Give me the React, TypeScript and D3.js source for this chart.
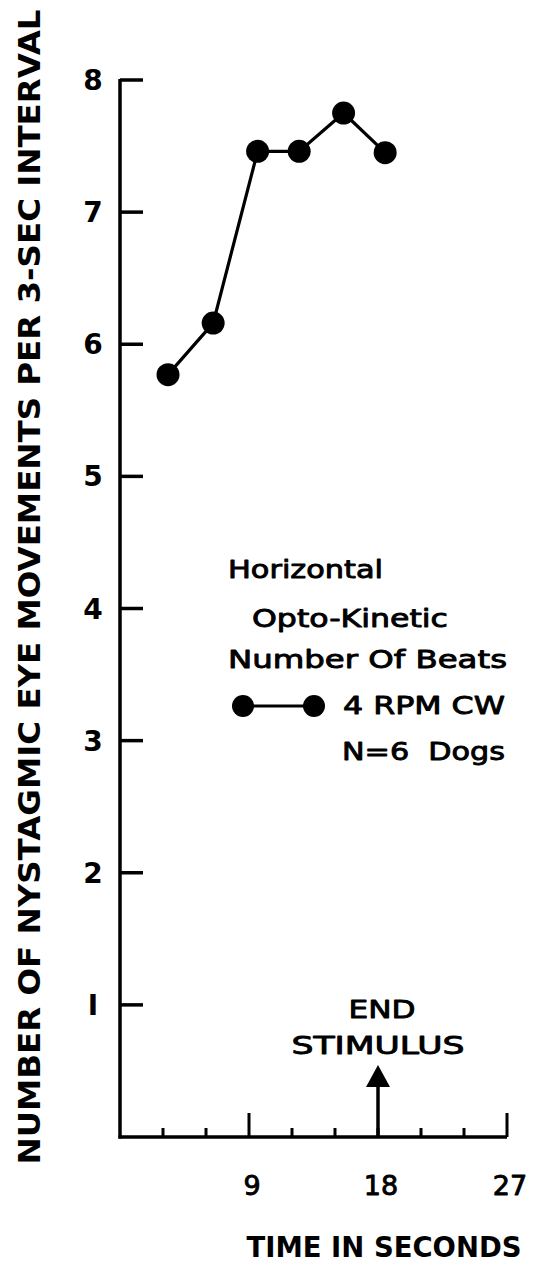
import React from "react";
import * as d3 from "d3";

const timeSec = [3.35, 6.5, 9.6, 12.5, 15.6, 18.5];
const beats = [5.77, 6.16, 7.46, 7.46, 7.75, 7.45];
const yTicks = [1, 2, 3, 4, 5, 6, 7, 8];
const yTickLabels = ["I", "2", "3", "4", "5", "6", "7", "8"];
const xTicks = [3, 6, 9, 12, 15, 18, 21, 24, 27];
const xMajor = [9, 27];
const xTickLabels = [9, 18, 27];
const legendLines = ["Horizontal", "Opto-Kinetic", "Number Of Beats"];
const seriesLabel = "4 RPM CW";
const nLabel = "N=6  Dogs";
const yTitle = "NUMBER OF NYSTAGMIC EYE MOVEMENTS PER 3-SEC INTERVAL";
const xTitle = "TIME IN SECONDS";
const stimulusTime = 18;

const W = 539;
const H = 1272;
const FONT = "'DejaVu Sans', 'Liberation Sans', sans-serif";
const heavy = { stroke: "#000", strokeWidth: 0.9, strokeLinejoin: "round" as const };

export default function App() {
  const x = d3.scaleLinear().domain([0, 27]).range([120, 507]);
  const y = d3.scaleLinear().domain([0, 8]).range([1137, 80]);
  const pts = timeSec.map((t, i) => [x(t), y(beats[i])] as [number, number]);
  const line = d3.line<[number, number]>()(pts) || "";
  const sx = x(stimulusTime);

  return (
    <svg
      width={W}
      height={H}
      style={{ position: "absolute", left: 0, top: 0, background: "#fff" }}
    >
      <rect x={0} y={0} width={W} height={H} fill="#fff" />
      {/* axes */}
      <line x1={x(0)} y1={y(8) - 1} x2={x(0)} y2={y(0) + 1.5} stroke="#000" strokeWidth={3.5} />
      <line x1={x(0) - 1.5} y1={y(0)} x2={x(27)} y2={y(0)} stroke="#000" strokeWidth={3.5} />
      {yTicks.map((v) => (
        <line key={"yt" + v} x1={x(0)} y1={y(v)} x2={x(0) + 23} y2={y(v)} stroke="#000" strokeWidth={3.5} />
      ))}
      {yTicks.map((v, i) => (
        <text
          key={"yl" + v}
          x={93}
          y={y(v) + 10}
          textAnchor="middle"
          fontFamily={FONT}
          fontWeight="bold"
          fontSize={28}
        >
          {yTickLabels[i]}
        </text>
      ))}
      {xTicks.map((v) => (
        <line
          key={"xt" + v}
          x1={x(v)}
          y1={y(0)}
          x2={x(v)}
          y2={y(0) - (xMajor.includes(v) ? 24 : 9)}
          stroke="#000"
          strokeWidth={3}
        />
      ))}
      {xTickLabels.map((v) => (
        <text
          key={"xl" + v}
          x={x(v) + 3}
          y={1195}
          textAnchor="middle"
          fontFamily={FONT}
          fontSize={27}
          {...heavy}
        >
          {v}
        </text>
      ))}
      <text
        x={384}
        y={1257}
        textAnchor="middle"
        fontFamily={FONT}
        fontWeight="bold"
        fontSize={29}
        textLength={275}
        lengthAdjust="spacingAndGlyphs"
      >
        {xTitle}
      </text>
      <text
        transform={`translate(40, ${587}) rotate(-90)`}
        textAnchor="middle"
        fontFamily={FONT}
        fontWeight="bold"
        fontSize={31}
        textLength={1155}
        lengthAdjust="spacingAndGlyphs"
      >
        {yTitle}
      </text>

      {/* data */}
      <path d={line} fill="none" stroke="#000" strokeWidth={3.2} />
      {pts.map((p, i) => (
        <circle key={"pt" + i} cx={p[0]} cy={p[1]} r={11.5} fill="#000" />
      ))}

      {/* legend */}
      <text x={228} y={578} fontFamily={FONT} fontSize={25} textLength={155} lengthAdjust="spacingAndGlyphs" {...heavy}>
        {legendLines[0]}
      </text>
      <text x={252} y={627} fontFamily={FONT} fontSize={25} textLength={196} lengthAdjust="spacingAndGlyphs" {...heavy}>
        {legendLines[1]}
      </text>
      <text x={228} y={668} fontFamily={FONT} fontSize={25} textLength={279} lengthAdjust="spacingAndGlyphs" {...heavy}>
        {legendLines[2]}
      </text>
      <line x1={243} y1={706} x2={314} y2={706} stroke="#000" strokeWidth={3} />
      <circle cx={243} cy={706} r={11} fill="#000" />
      <circle cx={314} cy={706} r={11} fill="#000" />
      <text x={343} y={714} fontFamily={FONT} fontSize={25} textLength={162} lengthAdjust="spacingAndGlyphs" {...heavy}>
        {seriesLabel}
      </text>
      <text x={342} y={760} fontFamily={FONT} fontSize={25} textLength={163} lengthAdjust="spacingAndGlyphs" xmlSpace="preserve" {...heavy}>
        {nLabel}
      </text>

      {/* stimulus annotation */}
      <text x={382} y={1018} textAnchor="middle" fontFamily={FONT} fontSize={25} textLength={67} lengthAdjust="spacingAndGlyphs" {...heavy}>
        END
      </text>
      <text x={378} y={1054} textAnchor="middle" fontFamily={FONT} fontSize={25} textLength={173} lengthAdjust="spacingAndGlyphs" {...heavy}>
        STIMULUS
      </text>
      <line x1={sx} y1={y(0)} x2={sx} y2={1084} stroke="#000" strokeWidth={3.5} />
      <path d={`M${sx - 12},${1087} L${sx + 12},${1087} L${sx},${1065} Z`} fill="#000" />
    </svg>
  );
}
